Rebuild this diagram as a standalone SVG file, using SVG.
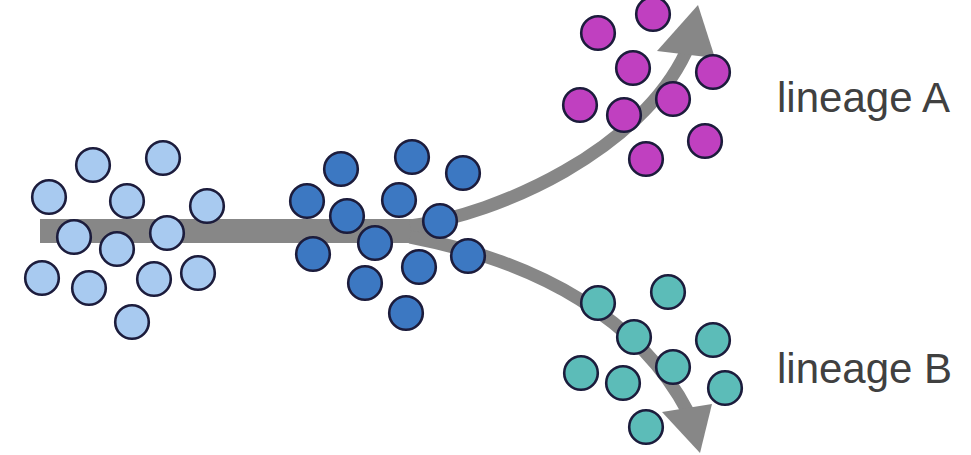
<svg xmlns="http://www.w3.org/2000/svg" width="971" height="455" viewBox="0 0 971 455">
<style>
.c{stroke:#1c1c3c;stroke-width:2.6}
.lb{fill:#a8caf0}
.db{fill:#3c78c2}
.mg{fill:#c040c0}
.tl{fill:#5cbcb8}
.sh{fill:none;stroke:#878787;stroke-linecap:butt}
.hd{fill:#878787}
.t{font-family:"Liberation Sans",Arial,sans-serif;font-size:42px;fill:#404040}
</style>
<rect width="971" height="455" fill="#fff"/>
<g id="connectors">
<path class="sh" d="M40,231 L430,231" stroke-width="24"/>
<path class="sh" d="M410,226 C500,214 640,150 686,52" stroke-width="13"/>
<path class="sh" d="M410,237 C540,262 640,320 688,412" stroke-width="13"/>
<polygon class="hd" points="698,5 657,51 715,58"/>
<polygon class="hd" points="700,453 662,412 712,404"/>
</g>
<g id="population1">
<circle class="c lb" cx="93" cy="165" r="16.8"/>
<circle class="c lb" cx="163" cy="158" r="16.8"/>
<circle class="c lb" cx="49" cy="197" r="16.8"/>
<circle class="c lb" cx="127" cy="201" r="16.8"/>
<circle class="c lb" cx="207" cy="206" r="16.8"/>
<circle class="c lb" cx="74" cy="237" r="16.8"/>
<circle class="c lb" cx="167" cy="233" r="16.8"/>
<circle class="c lb" cx="117" cy="249" r="16.8"/>
<circle class="c lb" cx="42" cy="278" r="16.8"/>
<circle class="c lb" cx="89" cy="288" r="16.8"/>
<circle class="c lb" cx="154" cy="279" r="16.8"/>
<circle class="c lb" cx="198" cy="273" r="16.8"/>
<circle class="c lb" cx="132" cy="322" r="16.8"/>
</g>
<g id="population2">
<circle class="c db" cx="341" cy="169" r="16.8"/>
<circle class="c db" cx="412" cy="157" r="16.8"/>
<circle class="c db" cx="463" cy="173" r="16.8"/>
<circle class="c db" cx="307" cy="201" r="16.8"/>
<circle class="c db" cx="399" cy="200" r="16.8"/>
<circle class="c db" cx="347" cy="216" r="16.8"/>
<circle class="c db" cx="440" cy="221" r="16.8"/>
<circle class="c db" cx="313" cy="254" r="16.8"/>
<circle class="c db" cx="375" cy="243" r="16.8"/>
<circle class="c db" cx="419" cy="267" r="16.8"/>
<circle class="c db" cx="468" cy="256" r="16.8"/>
<circle class="c db" cx="365" cy="283" r="16.8"/>
<circle class="c db" cx="406" cy="313" r="16.8"/>
</g>
<g id="lineageA-cells">
<circle class="c mg" cx="598" cy="33" r="16.8"/>
<circle class="c mg" cx="653" cy="14" r="16.8"/>
<circle class="c mg" cx="633" cy="68" r="16.8"/>
<circle class="c mg" cx="713" cy="72" r="16.8"/>
<circle class="c mg" cx="580" cy="105" r="16.8"/>
<circle class="c mg" cx="624" cy="115" r="16.8"/>
<circle class="c mg" cx="673" cy="99" r="16.8"/>
<circle class="c mg" cx="705" cy="141" r="16.8"/>
<circle class="c mg" cx="646" cy="159" r="16.8"/>
</g>
<g id="lineageB-cells">
<circle class="c tl" cx="598" cy="303" r="16.8"/>
<circle class="c tl" cx="668" cy="292" r="16.8"/>
<circle class="c tl" cx="634" cy="337" r="16.8"/>
<circle class="c tl" cx="713" cy="340" r="16.8"/>
<circle class="c tl" cx="581" cy="373" r="16.8"/>
<circle class="c tl" cx="623" cy="383" r="16.8"/>
<circle class="c tl" cx="673" cy="367" r="16.8"/>
<circle class="c tl" cx="725" cy="388" r="16.8"/>
<circle class="c tl" cx="646" cy="427" r="16.8"/>
</g>
<g id="labelA"><text class="t" x="777" y="112" textLength="173">lineage A</text></g>
<g id="labelB"><text class="t" x="777" y="383" textLength="175">lineage B</text></g>
</svg>
